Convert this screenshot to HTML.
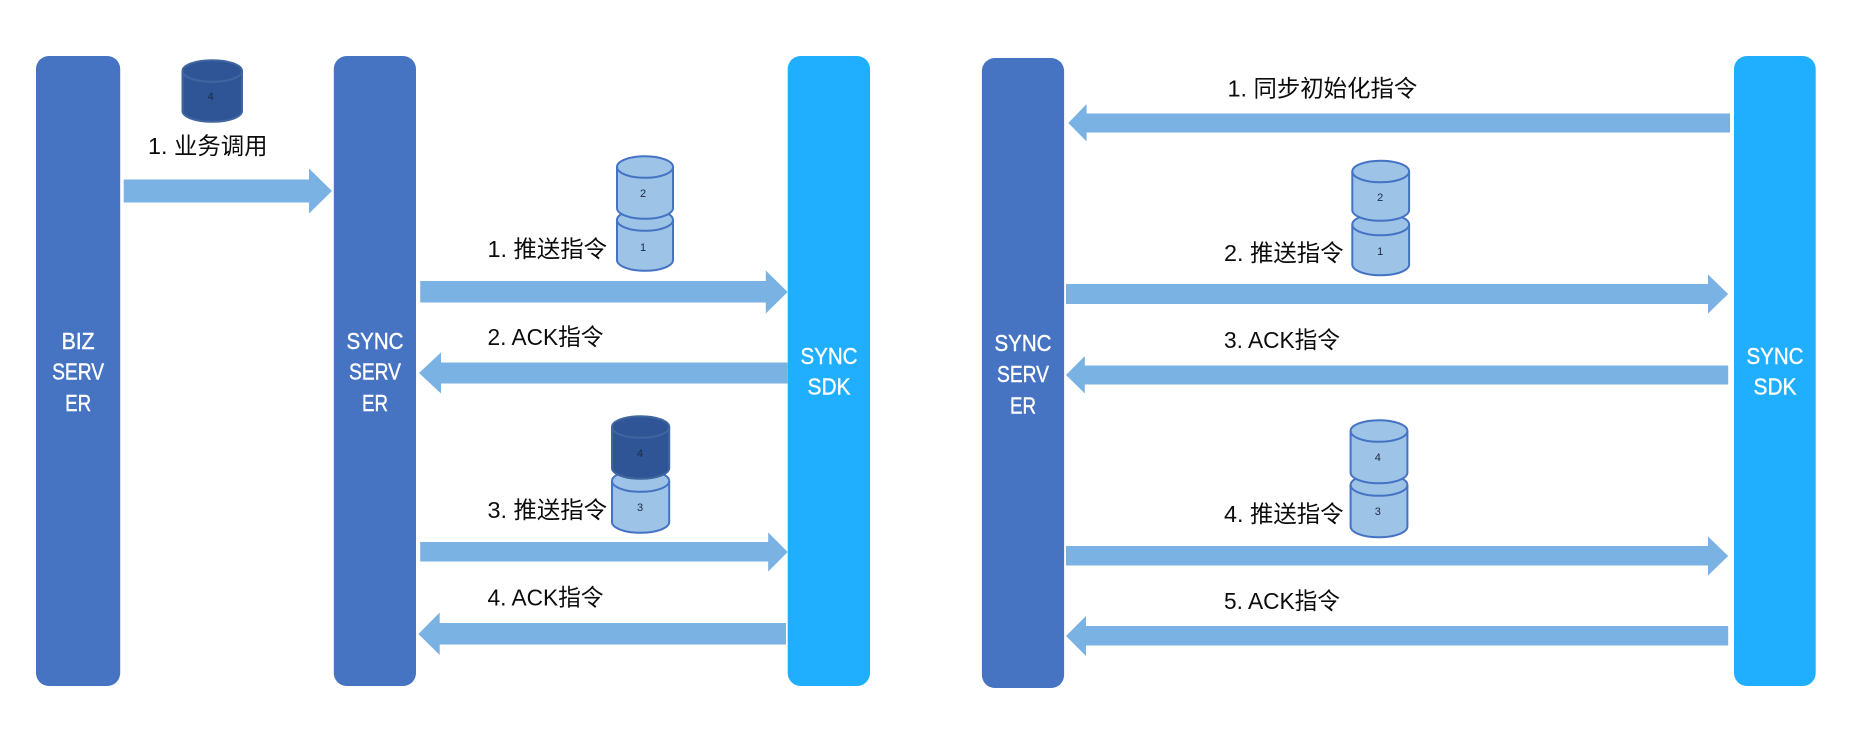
<!DOCTYPE html>
<html><head><meta charset="utf-8">
<style>
html,body{margin:0;padding:0;background:#fff;width:1856px;height:738px;overflow:hidden}
svg{display:block}
.l{font-family:"Liberation Sans","Noto Sans CJK SC",sans-serif;font-size:23.4px;fill:#0c0c0c}
.b{font-family:"Liberation Sans",sans-serif;font-size:23px;fill:#fff;stroke:#fff;stroke-width:.4;text-anchor:middle}
.n{font-family:"Liberation Sans",sans-serif;font-size:11px;fill:#1a2a44;text-anchor:middle}
.a{fill:#7ab2e3}
.c{fill:#9dc3e6;stroke:#4472c4;stroke-width:2}
.d{fill:#2f5597;stroke:#41669f;stroke-width:2}
.o{fill:none}
</style></head><body>
<svg xmlns="http://www.w3.org/2000/svg" width="1856" height="738" viewBox="0 0 1856 738">
<rect width="1856" height="738" fill="#fff"/>
<!-- bars -->
<rect x="36" y="56" width="84.2" height="630" rx="13" fill="#4674c2"/>
<rect x="333.8" y="56" width="82.2" height="630" rx="13" fill="#4674c2"/>
<rect x="787.7" y="56" width="82.3" height="630" rx="13" fill="#20aeff"/>
<rect x="981.9" y="58" width="82.2" height="630" rx="13" fill="#4674c2"/>
<rect x="1734" y="56" width="81.7" height="630" rx="13" fill="#20aeff"/>
<!-- bar text -->
<text class="b" x="78.1" y="349" textLength="33" lengthAdjust="spacingAndGlyphs">BIZ</text>
<text class="b" x="78.1" y="379.5" textLength="52" lengthAdjust="spacingAndGlyphs">SERV</text>
<text class="b" x="78.1" y="411" textLength="26" lengthAdjust="spacingAndGlyphs">ER</text>
<text class="b" x="375" y="349" textLength="57" lengthAdjust="spacingAndGlyphs">SYNC</text>
<text class="b" x="375" y="379.5" textLength="52" lengthAdjust="spacingAndGlyphs">SERV</text>
<text class="b" x="375" y="411" textLength="26" lengthAdjust="spacingAndGlyphs">ER</text>
<text class="b" x="829" y="364" textLength="57" lengthAdjust="spacingAndGlyphs">SYNC</text>
<text class="b" x="829" y="394.5" textLength="43" lengthAdjust="spacingAndGlyphs">SDK</text>
<text class="b" x="1023" y="351" textLength="57" lengthAdjust="spacingAndGlyphs">SYNC</text>
<text class="b" x="1023" y="382" textLength="52" lengthAdjust="spacingAndGlyphs">SERV</text>
<text class="b" x="1023" y="413.5" textLength="26" lengthAdjust="spacingAndGlyphs">ER</text>
<text class="b" x="1775" y="364" textLength="57" lengthAdjust="spacingAndGlyphs">SYNC</text>
<text class="b" x="1775" y="394.5" textLength="43" lengthAdjust="spacingAndGlyphs">SDK</text>
<!-- arrows left panel -->
<polygon class="a" points="123.7,179.5 309,179.5 309,168.5 332,191 309,213.5 309,202.5 123.7,202.5"/>
<polygon class="a" points="420.2,281 765.8,281 765.8,270.5 787.7,292 765.8,313.5 765.8,302.5 420.2,302.5"/>
<polygon class="a" points="787.7,362.5 441,362.5 441,352.5 419,373 441,393.5 441,383.5 787.7,383.5"/>
<polygon class="a" points="420.2,542 768.2,542 768.2,532.5 787.7,552 768.2,571.5 768.2,561.5 420.2,561.5"/>
<polygon class="a" points="786,623 439.7,623 439.7,612.5 418.4,634 439.7,655 439.7,644.5 786,644.5"/>
<!-- arrows right panel -->
<polygon class="a" points="1730,113.5 1086.6,113.5 1086.6,104 1068.3,123 1086.6,141.5 1086.6,132.5 1730,132.5"/>
<polygon class="a" points="1066,284 1708,284 1708,274.5 1728.2,294 1708,313.5 1708,304 1066,304"/>
<polygon class="a" points="1728.2,365.5 1084.8,365.5 1084.8,356 1066,375 1084.8,393.5 1084.8,384.5 1728.2,384.5"/>
<polygon class="a" points="1066,546 1708,546 1708,536.5 1728.2,556 1708,575.5 1708,565.5 1066,565.5"/>
<polygon class="a" points="1728.2,626 1086,626 1086,616 1066,636 1086,656 1086,645.5 1728.2,645.5"/>
<!-- cylinder top-left -->
<path class="d" d="M182.5,71 A29.7,10.8 0 0 1 242,71 V111 A29.7,10.8 0 0 1 182.5,111 Z"/>
<path class="d o" d="M182.5,71 A29.7,10.8 0 0 0 242,71"/>
<text class="n" x="210.7" y="100">4</text>
<!-- stack 1/2 left -->
<path class="c" d="M617,220 A28,10.8 0 0 1 673,220 V260 A28,10.8 0 0 1 617,260 Z"/>
<path class="c o" d="M617,220 A28,10.8 0 0 0 673,220"/>
<text class="n" x="643" y="251">1</text>
<path class="c" d="M617,167 A28,10.8 0 0 1 673,167 V208 A28,10.8 0 0 1 617,208 Z"/>
<path class="c o" d="M617,167 A28,10.8 0 0 0 673,167"/>
<text class="n" x="643" y="197">2</text>
<!-- stack 3/4 left -->
<path class="c" d="M612,481 A28.6,10.8 0 0 1 669.2,481 V522 A28.6,10.8 0 0 1 612,522 Z"/>
<path class="c o" d="M612,481 A28.6,10.8 0 0 0 669.2,481"/>
<text class="n" x="640" y="511">3</text>
<path class="d" d="M612,427 A28.6,10.8 0 0 1 669.2,427 V468 A28.6,10.8 0 0 1 612,468 Z"/>
<path class="d o" d="M612,427 A28.6,10.8 0 0 0 669.2,427"/>
<text class="n" x="640" y="457">4</text>
<!-- stack 1/2 right -->
<path class="c" d="M1352.3,224.5 A28.4,10.8 0 0 1 1409.1,224.5 V264.5 A28.4,10.8 0 0 1 1352.3,264.5 Z"/>
<path class="c o" d="M1352.3,224.5 A28.4,10.8 0 0 0 1409.1,224.5"/>
<text class="n" x="1380.2" y="255">1</text>
<path class="c" d="M1352.3,171.5 A28.4,10.8 0 0 1 1409.1,171.5 V210 A28.4,10.8 0 0 1 1352.3,210 Z"/>
<path class="c o" d="M1352.3,171.5 A28.4,10.8 0 0 0 1409.1,171.5"/>
<text class="n" x="1380.2" y="201">2</text>
<!-- stack 3/4 right -->
<path class="c" d="M1350.6,485 A28.4,10.8 0 0 1 1407.4,485 V526.5 A28.4,10.8 0 0 1 1350.6,526.5 Z"/>
<path class="c o" d="M1350.6,485 A28.4,10.8 0 0 0 1407.4,485"/>
<text class="n" x="1377.8" y="515">3</text>
<path class="c" d="M1350.6,431 A28.4,10.8 0 0 1 1407.4,431 V472.5 A28.4,10.8 0 0 1 1350.6,472.5 Z"/>
<path class="c o" d="M1350.6,431 A28.4,10.8 0 0 0 1407.4,431"/>
<text class="n" x="1377.8" y="461">4</text>
<!-- labels -->
<text class="l" x="148" y="154">1. 业务调用</text>
<text class="l" x="487.5" y="257">1. 推送指令</text>
<text class="l" x="487.5" y="345" textLength="116" lengthAdjust="spacingAndGlyphs">2. ACK指令</text>
<text class="l" x="487.5" y="518">3. 推送指令</text>
<text class="l" x="487.5" y="605.5" textLength="116" lengthAdjust="spacingAndGlyphs">4. ACK指令</text>
<text class="l" x="1227.5" y="96.5">1. 同步初始化指令</text>
<text class="l" x="1224" y="261">2. 推送指令</text>
<text class="l" x="1224" y="348" textLength="116" lengthAdjust="spacingAndGlyphs">3. ACK指令</text>
<text class="l" x="1224" y="522">4. 推送指令</text>
<text class="l" x="1224" y="609" textLength="116" lengthAdjust="spacingAndGlyphs">5. ACK指令</text>
</svg>
</body></html>
